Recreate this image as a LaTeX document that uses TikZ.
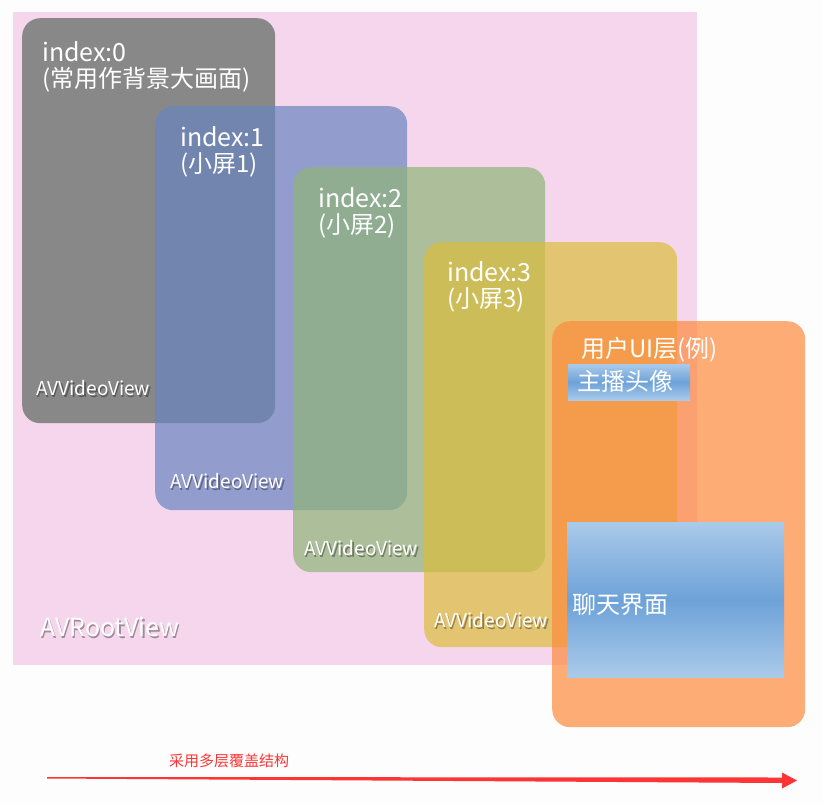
\documentclass[tikz,border=0pt]{standalone}
\usepackage{fontspec}
\setmainfont{Noto Sans CJK SC}
\usetikzlibrary{positioning}
\definecolor{bgwhite}{HTML}{FDFDFD}
\definecolor{rootpink}{HTML}{F6D6EC}
\definecolor{layergray}{HTML}{888888}
\definecolor{layerblue}{HTML}{6985C0}
\definecolor{layergreen}{HTML}{8FB47A}
\definecolor{layeryellow}{HTML}{DCBD3E}
\definecolor{layerorange}{HTML}{FD8A3D}
\definecolor{gradlight}{HTML}{AACAEA}
\definecolor{gradmid}{HTML}{6DA2D8}
\definecolor{arrowred}{HTML}{FF3535}
\tikzset{
  layerbox/.style={draw=none, rounded corners=18pt, fill opacity=0.7, anchor=north west, inner sep=0pt},
  lbl/.style={text=white, anchor=base west, inner sep=0pt, font=\fontsize{25}{27}\selectfont},
  cjklbl/.style={text=white, anchor=base west, inner sep=0pt, font=\fontsize{24}{26}\selectfont},
  shadowlbl/.style={text=black, text opacity=0.35, anchor=base west, inner sep=0pt},
  gradbox/.style={anchor=north west, inner sep=0pt, top color=gradlight, bottom color=gradlight, middle color=gradmid},
}
\newcommand{\myshtext}[5]{%
  \node[shadowlbl, font=\fontsize{#4}{#4}\selectfont] (#1s) at (#2+1.5,#3+2.5) {#5};
  \node[text=white, anchor=base west, inner sep=0pt, font=\fontsize{#4}{#4}\selectfont] (#1) at (#2,#3) {#5};
}
\begin{document}
\begin{tikzpicture}[x=1pt, y=-1pt]
\useasboundingbox[fill=bgwhite] (0,0) rectangle (823,804);
% root view
\node[fill=rootpink, anchor=north west, inner sep=0pt, minimum width=684pt, minimum height=653pt] (root) at (13,12) {};
% layers
\node[layerbox, fill=layergray, fill opacity=1, minimum width=253pt, minimum height=405pt] (v0) at (22,18) {};
\node[layerbox, fill=layerblue, minimum width=252pt, minimum height=404pt] (v1) at (155,106) {};
\node[layerbox, fill=layergreen, minimum width=252pt, minimum height=405pt] (v2) at (293,167) {};
\node[layerbox, fill=layeryellow, minimum width=253pt, minimum height=405pt] (v3) at (424,242) {};
\node[layerbox, fill=layerorange, minimum width=253pt, minimum height=406pt] (ui) at (552,321) {};
% gradient boxes
\node[gradbox, minimum width=122pt, minimum height=36pt] (anchorbox) at (568,364) {};
\node[gradbox, minimum width=217pt, minimum height=155pt] (chatbox) at (567,522) {};
% labels
\node[lbl] (t0a) at (42,61) {index:0};
\node[cjklbl] (t0b) at (42,87) {(常用作背景大画面)};
\node[lbl] (t1a) at (180,146) {index:1};
\node[cjklbl] (t1b) at (180,172) {(小屏1)};
\node[lbl] (t2a) at (318,207) {index:2};
\node[cjklbl] (t2b) at (318,233) {(小屏2)};
\node[lbl] (t3a) at (447,281) {index:3};
\node[cjklbl] (t3b) at (447,307) {(小屏3)};
\node[cjklbl] (tui) at (581,357) {用户UI层(例)};
\node[cjklbl] (tanchor) at (577,390) {主播头像};
\node[cjklbl] (tchat) at (572,613) {聊天界面};
\myshtext{a0}{36}{395}{19}{AVVideoView}
\myshtext{a1}{170}{488}{19}{AVVideoView}
\myshtext{a2}{304}{555}{19}{AVVideoView}
\myshtext{a3}{434}{627}{19}{AVVideoView}
\myshtext{aroot}{40}{636}{25}{AVRootView}
% arrow
\coordinate (tailtop) at (47,777);
\coordinate (tailbot) at (47,778.5);
\coordinate (shafttop) at (782,777.5);
\coordinate (shaftbot) at (782,783);
\coordinate (headtop) at (782,772.5);
\coordinate (headbot) at (782,788.5);
\coordinate (tip) at (797,780.5);
\fill[arrowred] (tailtop) -- (shafttop) -- (headtop) -- (tip) -- (headbot) -- (shaftbot) -- (tailbot) -- cycle;
\node[text=arrowred, anchor=base west, inner sep=0pt, font=\fontsize{15}{16}\selectfont] (cap) at (169,766) {采用多层覆盖结构};
\end{tikzpicture}
\end{document}
